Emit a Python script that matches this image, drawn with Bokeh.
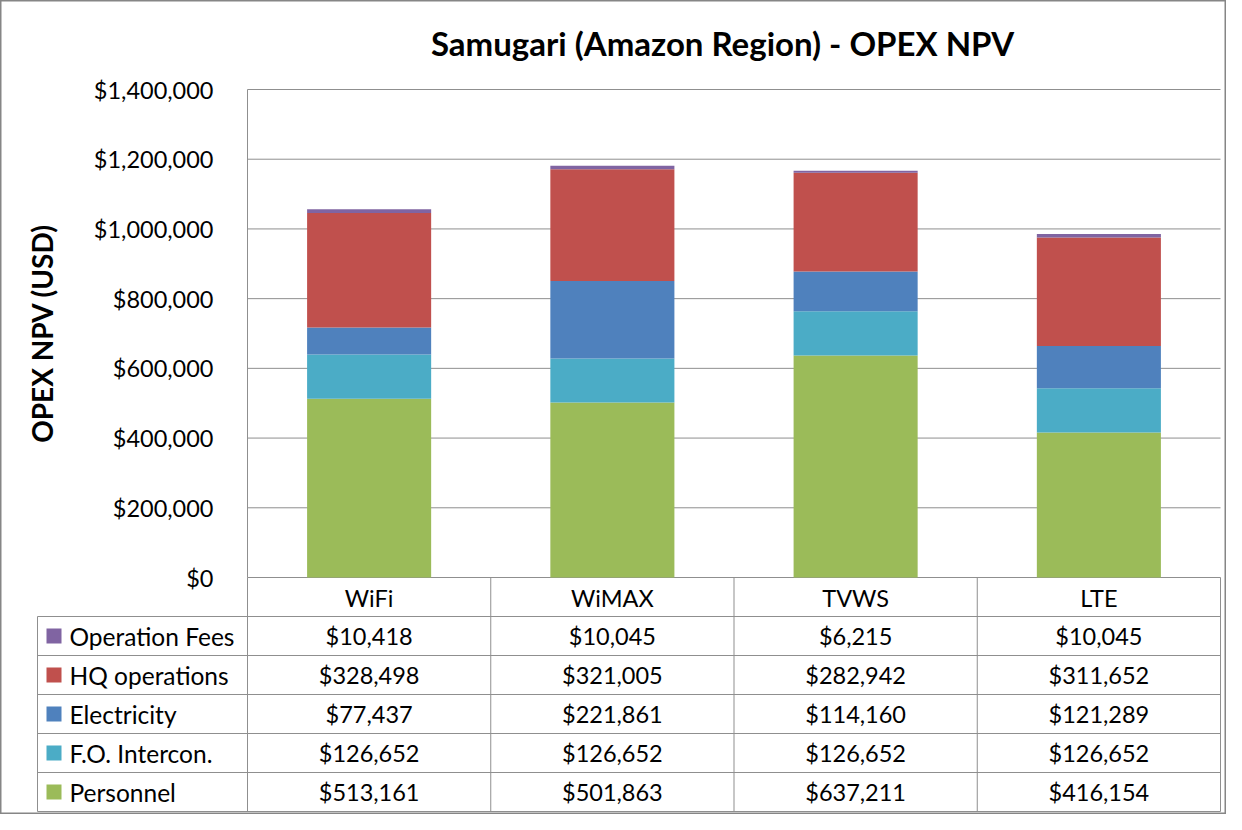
from bokeh.plotting import figure
from bokeh.models import (ColumnDataSource, Range1d, LinearAxis, FixedTicker,
                          NumeralTickFormatter, Label)
from bokeh.core.properties import value
from bokeh.embed import file_html
from bokeh.resources import INLINE

# ---------------- data ----------------
CATEGORIES = ["WiFi", "WiMAX", "TVWS", "LTE"]
PERSONNEL = [513161, 501863, 637211, 416154]
FO_INTERCON = [126652, 126652, 126652, 126652]
ELECTRICITY = [77437, 221861, 114160, 121289]
HQ_OPERATIONS = [328498, 321005, 282942, 311652]
OPERATION_FEES = [10418, 10045, 6215, 10045]

SERIES_NAMES = ["Personnel", "F.O. Intercon.", "Electricity", "HQ operations", "Operation Fees"]
SERIES_VALUES = [PERSONNEL, FO_INTERCON, ELECTRICITY, HQ_OPERATIONS, OPERATION_FEES]
SERIES_COLORS = ["#9BBB59", "#4BACC6", "#4F81BD", "#C0504D", "#8064A2"]
SERIES_KEYS = ["personnel", "fo", "elec", "hq", "fees"]

Y_TICKS = [0, 200000, 400000, 600000, 800000, 1000000, 1200000, 1400000]
TITLE = "Samugari (Amazon Region) - OPEX NPV"
Y_LABEL = "OPEX NPV (USD)"

# ---------------- layout (canvas pixels) ----------------
W, H = 1226, 814
PLOT_L, PLOT_R = 247, 1220
PLOT_T, PLOT_B = 89, 577
TABLE_L = 37
ROW_H = 39
FONT = "Lato"
LINE = "#8f8f8f"
TXT = "23.5px"

n = len(CATEGORIES)
ux = (PLOT_R - PLOT_L) / n
ymax = Y_TICKS[-1]
uy = ymax / (PLOT_B - PLOT_T)

p = figure(width=W, height=H,
           x_range=Range1d(-PLOT_L / ux, n + (W - PLOT_R) / ux),
           y_range=Range1d(-(H - PLOT_B) * uy, PLOT_B * uy),
           x_axis_type=None, y_axis_type=None,
           output_backend="svg", toolbar_location=None, min_border=0,
           outline_line_color="#868686", outline_line_width=2,
           background_fill_color="white", border_fill_color="white")
p.extra_y_ranges = {"tbl": Range1d(-(H - PLOT_B) / ROW_H, PLOT_B / ROW_H)}

# gridlines across the plot area
p.segment(x0=0, x1=n, y0=Y_TICKS, y1=Y_TICKS, line_color=LINE, line_width=1)

# stacked bars
xs = [i + 0.5 for i in range(n)]
data = dict(x=xs)
for k, v in zip(SERIES_KEYS, SERIES_VALUES):
    data[k] = v
src = ColumnDataSource(data)
p.vbar_stack(SERIES_KEYS, x="x", width=0.51, color=SERIES_COLORS,
             line_color=None, source=src)

# y axis
yaxis = LinearAxis(fixed_location=0, bounds=(0, ymax),
                   ticker=FixedTicker(ticks=Y_TICKS),
                   formatter=NumeralTickFormatter(format="$0,0"),
                   axis_line_color=LINE, axis_line_width=1,
                   major_tick_line_color=None, minor_tick_line_color=None,
                   major_tick_out=0, major_tick_in=0,
                   major_label_standoff=34,
                   major_label_text_font=FONT, major_label_text_font_size=TXT,
                   major_label_text_color="black",
                   axis_label=Y_LABEL, axis_label_text_font=FONT,
                   axis_label_text_font_style="bold", axis_label_text_font_size="28px",
                   axis_label_text_color="black", axis_label_standoff=32)
p.add_layout(yaxis, "left")

# category axis (header row of the data table)
xaxis = LinearAxis(fixed_location=0, ticker=FixedTicker(ticks=xs),
                   major_label_overrides={x: c for x, c in zip(xs, CATEGORIES)},
                   axis_line_color=None, major_tick_line_color=None,
                   minor_tick_line_color=None, major_tick_out=0, major_tick_in=0,
                   major_label_standoff=6,
                   major_label_text_font=FONT, major_label_text_font_size=TXT,
                   major_label_text_color="black")
p.add_layout(xaxis, "below")

# data table
rows_top_down = list(range(len(SERIES_NAMES)))[::-1]
tx, ty, tt = [], [], []
ly, lt, lc = [], [], []
for r, si in enumerate(rows_top_down):
    yc = -(r + 1.5)
    for ci in range(n):
        tx.append(xs[ci])
        ty.append(yc)
        tt.append("${:,}".format(SERIES_VALUES[si][ci]))
    ly.append(yc)
    lt.append(SERIES_NAMES[si])
    lc.append(SERIES_COLORS[si])

p.text(x=tx, y=ty, text=tt, y_range_name="tbl", text_align="center",
       text_baseline="middle", text_font=value(FONT), text_font_size=value(TXT),
       text_color="black")

leg_sq_x = (53.5 - PLOT_L) / ux
leg_tx_x = (69 - PLOT_L) / ux
p.scatter(x=[leg_sq_x] * len(ly), y=ly, marker="square", size=15,
          fill_color=lc, line_color=None, y_range_name="tbl")
p.text(x=[leg_tx_x] * len(ly), y=ly, text=lt, y_range_name="tbl", text_align="left",
       text_baseline="middle", text_font=value(FONT), text_font_size=value("24.5px"),
       text_color="black")

n_rows = len(SERIES_NAMES) + 1
tbl_l = (TABLE_L - PLOT_L) / ux
hy = [-(r + 1) for r in range(n_rows)]
p.segment(x0=tbl_l, x1=n, y0=hy, y1=hy, line_color=LINE, y_range_name="tbl")
vx = list(range(n + 1))
p.segment(x0=vx, x1=vx, y0=0, y1=-n_rows, line_color=LINE, y_range_name="tbl")
p.segment(x0=tbl_l, x1=tbl_l, y0=-1, y1=-n_rows, line_color=LINE, y_range_name="tbl")

# title
p.add_layout(Label(x=(722 - PLOT_L) / ux, y=(PLOT_B - 42) * uy, text=TITLE,
                   text_align="center", text_baseline="middle", text_font=FONT,
                   text_font_style="bold", text_font_size="33px", text_color="black"))

open("out.html", "w").write(file_html(p, INLINE))
